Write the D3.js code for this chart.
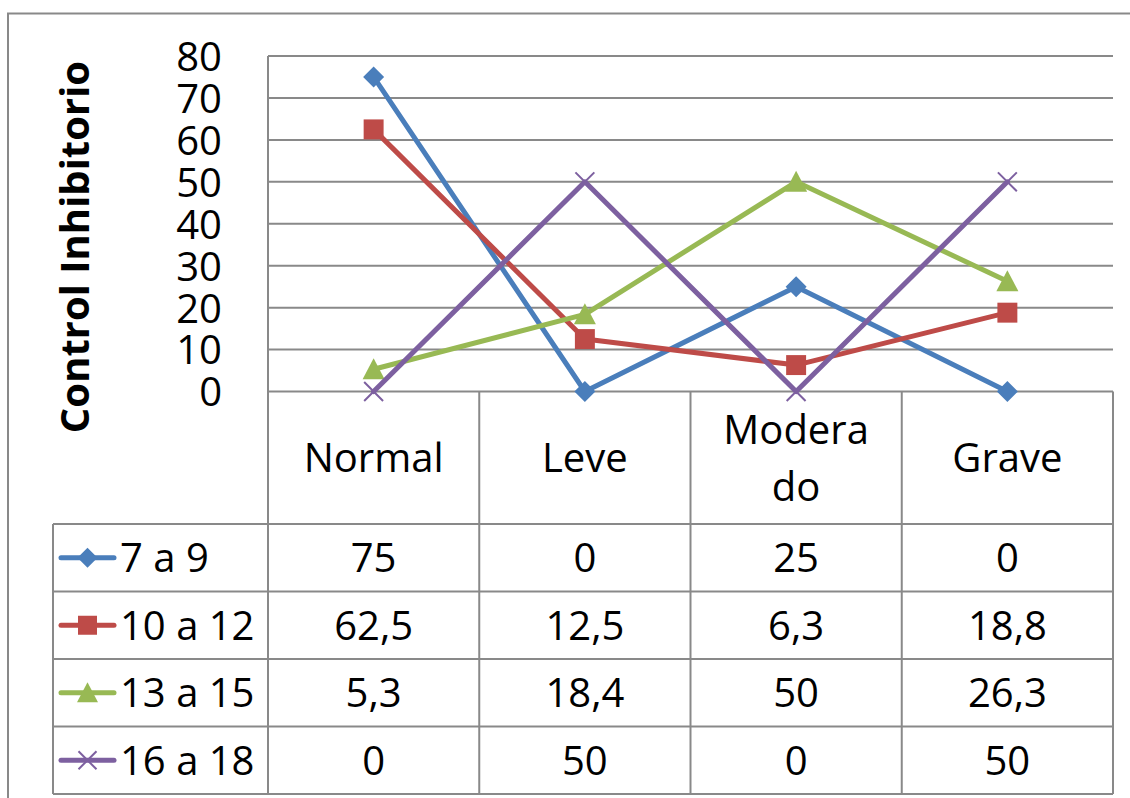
<!DOCTYPE html>
<html><head><meta charset="utf-8">
<script src="https://cdn.jsdelivr.net/npm/d3@7"></script>
<style>
html,body{margin:0;padding:0;background:#fff;}
svg{display:block;font-family:"Open Sans",sans-serif;}
</style></head>
<body>
<svg id="chart" width="1130" height="798"></svg>
<script>
const categories = ["Normal", "Leve", "Moderado", "Grave"];
const categoryLines = [["Normal"], ["Leve"], ["Modera", "do"], ["Grave"]];
const seriesNames = ["7 a 9", "10 a 12", "13 a 15", "16 a 18"];
const s7a9 = [75, 0, 25, 0];
const s10a12 = [62.5, 12.5, 6.3, 18.8];
const s13a15 = [5.3, 18.4, 50, 26.3];
const s16a18 = [0, 50, 0, 50];
const yTicks = [0, 10, 20, 30, 40, 50, 60, 70, 80];
const yTitle = "Control Inhibitorio";

const colors = ["#4A7EBB", "#BE4B48", "#98B954", "#7D60A0"];
const markers = ["diamond", "square", "triangle", "x"];
const seriesValues = [s7a9, s10a12, s13a15, s16a18];

const svg = d3.select("#chart");
const plotL = 268, plotR = 1113, plotT = 56, plotB = 391.5;
const rowH = 67.5, headerB = 524;
const tableL = 53;
const gridColor = "#898989";

// outer frame
svg.append("rect").attr("x", 8).attr("y", 13.5).attr("width", 1140).attr("height", 800)
  .attr("fill", "none").attr("stroke", gridColor).attr("stroke-width", 2);

const x = d3.scalePoint().domain(categories).range([plotL, plotR]).padding(0.5);
const y = d3.scaleLinear().domain([0, 80]).range([plotB, plotT]);
const step = x.step();

// gridlines + tick labels via axis
const yAxis = d3.axisLeft(y).tickValues(yTicks).tickSize(0).tickPadding(46).tickFormat(d3.format("d"));
const ga = svg.append("g").attr("transform", `translate(${plotL},0)`).call(yAxis);
ga.select(".domain").remove();
ga.selectAll("text").attr("font-size", 40).attr("fill", "#000").attr("font-family", "Open Sans")
  .attr("dy", "0.36em");
svg.append("g").selectAll("line").data(yTicks).join("line")
  .attr("x1", plotL).attr("x2", plotR).attr("y1", d => y(d)).attr("y2", d => y(d))
  .attr("stroke", gridColor).attr("stroke-width", 2);

// table lines
const tbl = svg.append("g").attr("stroke", gridColor).attr("stroke-width", 2);
const bounds = [plotL].concat(categories.map(c => x(c) + step / 2));
tbl.selectAll("line.v").data(bounds).join("line").attr("class", "v")
  .attr("x1", d => d).attr("x2", d => d)
  .attr("y1", (d, i) => i === 0 ? plotT : plotB)
  .attr("y2", headerB + rowH * seriesNames.length);
tbl.append("line").attr("x1", tableL).attr("x2", tableL).attr("y1", headerB).attr("y2", headerB + rowH * seriesNames.length);
const rowsY = d3.range(seriesNames.length + 1).map(i => headerB + i * rowH);
tbl.selectAll("line.h").data(rowsY).join("line").attr("class", "h")
  .attr("x1", tableL).attr("x2", plotR).attr("y1", d => d).attr("y2", d => d);

// header labels
const hdr = svg.append("g");
categories.forEach((c, i) => {
  const lines = categoryLines[i];
  const cy = (plotB + headerB) / 2;
  const lh = 57;
  lines.forEach((t, j) => {
    hdr.append("text").attr("x", x(c)).attr("y", cy + (j - (lines.length - 1) / 2) * lh + 14.5)
      .attr("text-anchor", "middle").attr("font-size", 40).attr("fill", "#000").text(t);
  });
});

// y title
svg.append("text").attr("transform", `translate(89,247) rotate(-90)`)
  .attr("text-anchor", "middle").attr("font-size", 40).attr("font-weight", "bold").attr("fill", "#000").text(yTitle);

function drawMarker(g, type, cx, cy, color, size) {
  const h = size / 2;
  if (type === "diamond") {
    g.append("path").attr("d", `M${cx},${cy - h}L${cx + h},${cy}L${cx},${cy + h}L${cx - h},${cy}Z`).attr("fill", color);
  } else if (type === "square") {
    g.append("rect").attr("x", cx - h * 0.95).attr("y", cy - h * 0.95).attr("width", size * 0.95).attr("height", size * 0.95).attr("fill", color);
  } else if (type === "triangle") {
    g.append("path").attr("d", `M${cx},${cy - h * 1.05}L${cx + h * 1.05},${cy + h * 0.95}L${cx - h * 1.05},${cy + h * 0.95}Z`).attr("fill", color);
  } else {
    const k = h * 0.9;
    g.append("path").attr("d", `M${cx - k},${cy - k}L${cx + k},${cy + k}M${cx - k},${cy + k}L${cx + k},${cy - k}`)
      .attr("stroke", color).attr("stroke-width", 2).attr("fill", "none");
  }
}

const line = d3.line().x((d, i) => x(categories[i])).y(d => y(d));
seriesValues.forEach((vals, si) => {
  const g = svg.append("g");
  g.append("path").datum(vals).attr("d", line).attr("fill", "none")
    .attr("stroke", colors[si]).attr("stroke-width", 5).attr("stroke-linejoin", "round").attr("stroke-linecap", "round");
  vals.forEach((v, i) => drawMarker(g, markers[si], x(categories[i]), y(v), colors[si], 21));
});

const fmt = v => String(v).replace(".", ",");
seriesNames.forEach((name, si) => {
  const cy = headerB + si * rowH + rowH / 2;
  const g = svg.append("g");
  g.append("line").attr("x1", 61).attr("x2", 114).attr("y1", cy).attr("y2", cy)
    .attr("stroke", colors[si]).attr("stroke-width", 5).attr("stroke-linecap", "round");
  drawMarker(g, markers[si], 87.5, cy, colors[si], 20);
  g.append("text").attr("x", 120).attr("y", cy + 14.5).attr("font-size", 40).attr("fill", "#000").text(name);
  seriesValues[si].forEach((v, i) => {
    g.append("text").attr("x", x(categories[i])).attr("y", cy + 14.5).attr("text-anchor", "middle")
      .attr("font-size", 40).attr("fill", "#000").text(fmt(v));
  });
});
</script>
</body></html>
